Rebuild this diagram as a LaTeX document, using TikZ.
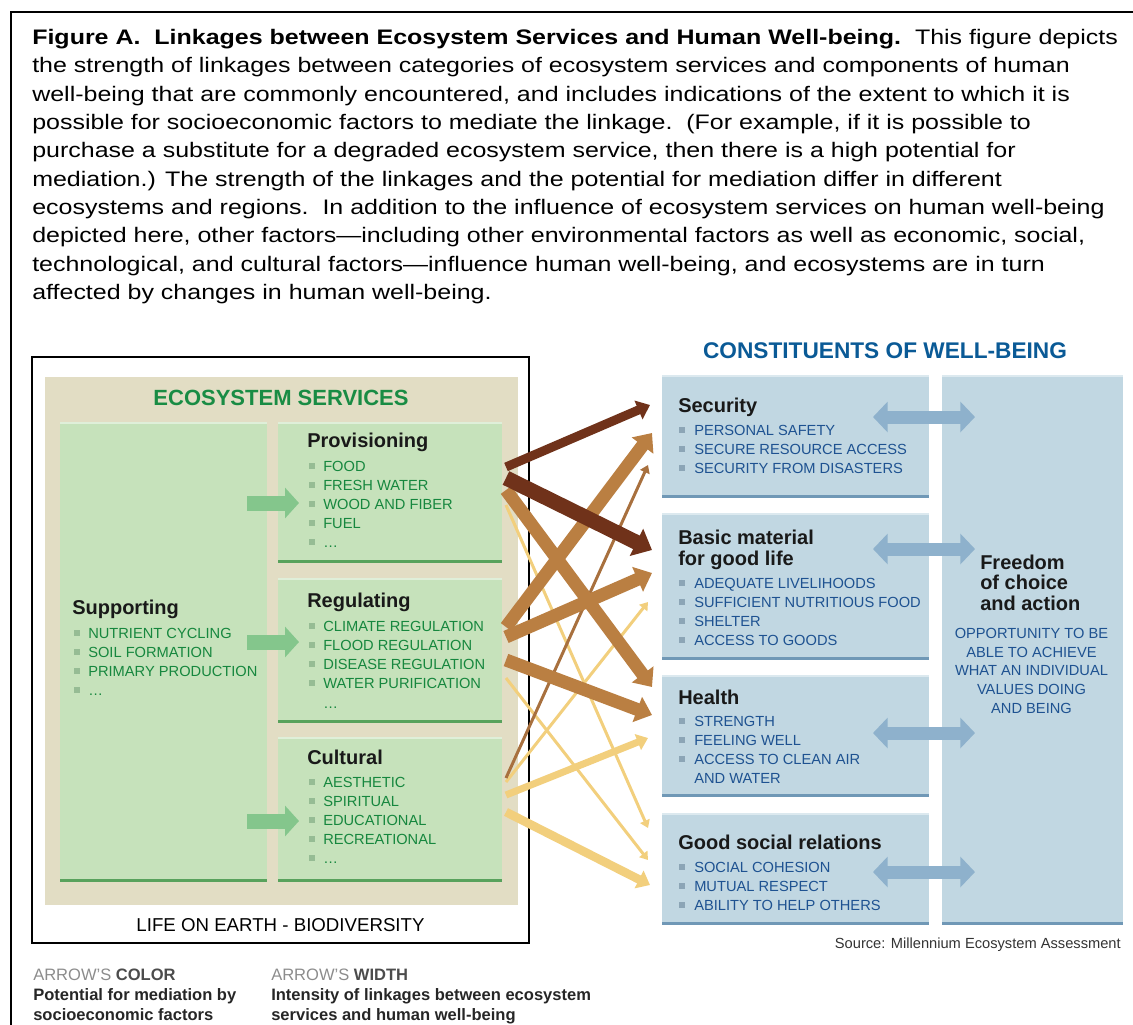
\documentclass[tikz,border=0pt]{standalone}
\usepackage{fontspec}
\setmainfont{Liberation Sans}
\newfontfamily\capfont{Liberation Sans}[FakeStretch=1.19]
\usetikzlibrary{arrows.meta, calc}

\begin{document}
\begin{tikzpicture}[
    x=0.75pt, y=-0.75pt,
    box/.style={inner sep=0pt, outer sep=0pt},
    greenbox/.style={box, fill=esGreen},
    bluebox/.style={box, fill=wbBlue},
    greenedge/.style={draw=esEdge, line width=2.2pt},
    blueedge/.style={draw=wbEdge, line width=2.2pt},
    topglow/.style={draw=white, draw opacity=0.45, line width=1.2pt},
    captext/.style={inner sep=0pt, anchor=base west, font=\capfont\fontsize{15.75}{19}\selectfont},
    boxtitle/.style={inner sep=0pt, anchor=west, font=\bfseries\fontsize{15}{18}\selectfont, text=black!90, text height=10.7pt, text depth=0pt},
    gitem/.style={inner sep=0pt, anchor=west, font=\fontsize{11}{13}\selectfont, text=esText, text height=7.9pt, text depth=0pt},
    bitem/.style={gitem, text=wbText},
    gbul/.style={fill=esBullet, minimum size=4pt, inner sep=0pt},
    bbul/.style={fill=wbBullet, minimum size=4pt, inner sep=0pt},
    legendtext/.style={inner sep=0pt, anchor=west, font=\bfseries\fontsize{12.4}{15}\selectfont, text=black!85, text height=8.9pt, text depth=0pt},
    link/.style={-{Triangle[width=4pt 1.6, length=4pt 0.8]}},
    feed/.style={line width=11.25pt, draw=esFeed, -{Triangle[width=22.5pt, length=10.5pt]}},
    twoway/.style={line width=9.75pt, draw=wbArrow, {Triangle[width=22.5pt, length=11pt]}-{Triangle[width=22.5pt, length=11pt]}},
]

% palette: green services side, blue well-being side, brown/yellow linkage arrows
\definecolor{esBeige}{RGB}{226,221,196}
\definecolor{esGreen}{RGB}{198,226,187}
\definecolor{esEdge}{RGB}{88,162,92}
\definecolor{esText}{RGB}{22,135,62}
\definecolor{esBullet}{RGB}{150,188,148}
\definecolor{esFeed}{RGB}{132,198,140}
\definecolor{esHead}{RGB}{25,140,68}
\definecolor{wbBlue}{RGB}{193,215,226}
\definecolor{wbEdge}{RGB}{112,152,182}
\definecolor{wbText}{RGB}{30,82,145}
\definecolor{wbBullet}{RGB}{140,165,182}
\definecolor{wbArrow}{RGB}{142,177,204}
\definecolor{wbHead}{RGB}{10,90,150}
\definecolor{linkDark}{RGB}{112,50,26}
\definecolor{linkMid}{RGB}{186,127,66}
\definecolor{linkThin}{RGB}{168,112,62}
\definecolor{linkLight}{RGB}{242,207,125}
\definecolor{legendGray}{RGB}{140,140,140}

\useasboundingbox (0,0) rectangle (1133,1025);

% ===== Frame and caption =====
\draw[line width=1.5pt] (11,1025) -- (11,12) -- (1133,12);

\foreach \ln [count=\i] in {
    {\textbf{Figure A.\ \ Linkages between Ecosystem Services and Human Well-being.}\ \ This figure depicts},
    {the strength of linkages between categories of ecosystem services and components of human},
    {well-being that are commonly encountered, and includes indications of the extent to which it is},
    {possible for socioeconomic factors to mediate the linkage.\ \ (For example, if it is possible to},
    {purchase a substitute for a degraded ecosystem service, then there is a high potential for},
    {mediation.) The strength of the linkages and the potential for mediation differ in different},
    {ecosystems and regions.\ \ In addition to the influence of ecosystem services on human well-being},
    {depicted here, other factors—including other environmental factors as well as economic, social,},
    {technological, and cultural factors—influence human well-being, and ecosystems are in turn},
    {affected by changes in human well-being.}} {
    \node[captext] (cap\i) at (32, {44.5+(\i-1)*28.35}) {\ln};
}

% ===== LEFT: Ecosystem services =====
\node[box, draw=black, line width=1.1pt, fill=white, minimum width=372.75pt, minimum height=439.5pt] (earth) at (280.5,650) {};
\node[box, fill=esBeige, minimum width=354.75pt, minimum height=396pt] (beige) at (281.5,641) {};
\node[inner sep=0pt, font=\bfseries\fontsize{16.5}{20}\selectfont, text=esHead, text height=11.8pt, text depth=0pt] (eshead) at (281,398) {ECOSYSTEM SERVICES};
\node[inner sep=0pt, font=\fontsize{14}{17}\selectfont, text height=10pt, text depth=0pt] (biodiv) at (280.5,925) {LIFE ON EARTH - BIODIVERSITY};

\node[greenbox, minimum width=155.25pt, minimum height=345pt] (supp) at (163.5,652) {};
\node[greenbox, minimum width=168pt, minimum height=105.75pt] (prov) at (390,492.5) {};
\node[greenbox, minimum width=168pt, minimum height=108.75pt] (reg) at (390,650.5) {};
\node[greenbox, minimum width=168pt, minimum height=108.75pt] (cul) at (390,809.5) {};
\foreach \b in {supp, prov, reg, cul} {
    \draw[topglow] ($(\b.north west)+(0,1)$) -- ($(\b.north east)+(0,1)$);
    \draw[greenedge] ($(\b.south west)+(0,-1.5)$) -- ($(\b.south east)+(0,-1.5)$);
}

% Supporting
\node[boxtitle] (suppt) at ($(supp.north west)+(12,185)$) {Supporting};
\foreach \t [count=\i] in {NUTRIENT CYCLING, SOIL FORMATION, PRIMARY PRODUCTION, \ldots} {
    \node[gbul] at ($(supp.north west)+(17,192+\i*19)$) {};
    \node[gitem] at ($(supp.north west)+(28,192+\i*19)$) {\t};
}

% Provisioning
\node[boxtitle] (provt) at ($(prov.north west)+(29,18)$) {Provisioning};
\foreach \t [count=\i] in {FOOD, FRESH WATER, WOOD AND FIBER, FUEL, \ldots} {
    \node[gbul] at ($(prov.north west)+(34,25+\i*19)$) {};
    \node[gitem] at ($(prov.north west)+(45,25+\i*19)$) {\t};
}

% Regulating
\node[boxtitle] (regt) at ($(reg.north west)+(29,22)$) {Regulating};
\foreach \t [count=\i] in {CLIMATE REGULATION, FLOOD REGULATION, DISEASE REGULATION, WATER PURIFICATION} {
    \node[gbul] at ($(reg.north west)+(34,29+\i*19)$) {};
    \node[gitem] at ($(reg.north west)+(45,29+\i*19)$) {\t};
}
\node[gitem] at ($(reg.north west)+(45,125)$) {\ldots};

% Cultural
\node[boxtitle] (cult) at ($(cul.north west)+(29,20)$) {Cultural};
\foreach \t [count=\i] in {AESTHETIC, SPIRITUAL, EDUCATIONAL, RECREATIONAL, \ldots} {
    \node[gbul] at ($(cul.north west)+(34,26+\i*19)$) {};
    \node[gitem] at ($(cul.north west)+(45,26+\i*19)$) {\t};
}

% Supporting feeds the other three
\draw[feed] ($(supp.east)+(-20,-149)$) -- ($(prov.west)+(21,10.5)$);
\draw[feed] ($(supp.east)+(-20,-10)$) -- ($(reg.west)+(21,-8.5)$);
\draw[feed] ($(supp.east)+(-20,169)$) -- ($(cul.west)+(21,11.5)$);

% ===== RIGHT: Constituents of well-being =====
\node[inner sep=0pt, font=\bfseries\fontsize{17}{20}\selectfont, text=wbHead, text height=12.2pt, text depth=0pt] (wbhead) at (885,350) {CONSTITUENTS OF WELL-BEING};

\node[bluebox, minimum width=200.25pt, minimum height=92.25pt] (sec) at (795.5,436.5) {};
\node[bluebox, minimum width=200.25pt, minimum height=110.25pt] (bas) at (795.5,586.5) {};
\node[bluebox, minimum width=200.25pt, minimum height=91.5pt] (hea) at (795.5,736) {};
\node[bluebox, minimum width=200.25pt, minimum height=84pt] (goo) at (795.5,869) {};
\node[bluebox, minimum width=135.75pt, minimum height=412.5pt] (free) at (1032.5,650) {};
\foreach \b in {sec, bas, hea, goo, free} {
    \draw[topglow] ($(\b.north west)+(0,1)$) -- ($(\b.north east)+(0,1)$);
    \draw[blueedge] ($(\b.south west)+(0,-1.5)$) -- ($(\b.south east)+(0,-1.5)$);
}

% Security
\node[boxtitle] (sect) at ($(sec.north west)+(16,30)$) {Security};
\foreach \t [count=\i] in {PERSONAL SAFETY, SECURE RESOURCE ACCESS, SECURITY FROM DISASTERS} {
    \node[bbul] at ($(sec.north west)+(20,36+\i*19)$) {};
    \node[bitem] at ($(sec.north west)+(32,36+\i*19)$) {\t};
}

% Basic material
\node[boxtitle] (bast) at ($(bas.north west)+(16,24)$) {Basic material};
\node[boxtitle] (bast2) at ($(bas.north west)+(16,45)$) {for good life};
\foreach \t [count=\i] in {ADEQUATE LIVELIHOODS, SUFFICIENT NUTRITIOUS FOOD, SHELTER, ACCESS TO GOODS} {
    \node[bbul] at ($(bas.north west)+(20,51+\i*19)$) {};
    \node[bitem] at ($(bas.north west)+(32,51+\i*19)$) {\t};
}

% Health
\node[boxtitle] (heat) at ($(hea.north west)+(16,22)$) {Health};
\foreach \t [count=\i] in {STRENGTH, FEELING WELL, ACCESS TO CLEAN AIR} {
    \node[bbul] at ($(hea.north west)+(20,27+\i*19)$) {};
    \node[bitem] at ($(hea.north west)+(32,27+\i*19)$) {\t};
}
\node[bitem] at ($(hea.north west)+(32,103)$) {AND WATER};

% Good social relations
\node[boxtitle] (goot) at ($(goo.north west)+(16,29)$) {Good social relations};
\foreach \t [count=\i] in {SOCIAL COHESION, MUTUAL RESPECT, ABILITY TO HELP OTHERS} {
    \node[bbul] at ($(goo.north west)+(20,35+\i*19)$) {};
    \node[bitem] at ($(goo.north west)+(32,35+\i*19)$) {\t};
}

% Freedom of choice and action
\foreach \t [count=\i] in {Freedom, of choice, and action} {
    \node[boxtitle] (freet\i) at ($(free.north west)+(38,{166.5+\i*20.5})$) {\t};
}
\foreach \t [count=\i] in {OPPORTUNITY TO BE, ABLE TO ACHIEVE, WHAT AN INDIVIDUAL, VALUES DOING, AND BEING} {
    \node[bitem, anchor=center] (freed\i) at ($(free.north)+(-1,{239.5+\i*18.7})$) {\t};
}

% two-way links into freedom of choice
\draw[twoway] ($(sec.east)+(-56,-19.5)$) -- ($(free.west)+(33,-233)$);
\draw[twoway] ($(bas.east)+(-56,-37.5)$) -- ($(free.west)+(33,-101)$);
\draw[twoway] ($(hea.east)+(-56,-3)$) -- ($(free.west)+(33,83)$);
\draw[twoway] ($(goo.east)+(-56,3)$) -- ($(free.west)+(33,222)$);

\node[inner sep=0pt, anchor=east, font=\fontsize{11}{13}\selectfont, text=black!80, text height=7.9pt, text depth=0pt] (source) at (1121,943) {Source: Millennium Ecosystem Assessment};

% ===== Linkage arrows (light and thin first, dark on top) =====
\draw[link, line width=2.25pt, draw=linkLight] ($(prov.east)+(4,12.5)$) -- ($(goo.west)+(-14,-41)$);
\draw[link, line width=2.25pt, draw=linkLight] ($(reg.east)+(4,27.5)$) -- ($(goo.west)+(-14,-9)$);
\draw[link, line width=2.25pt, draw=linkLight] ($(cul.east)+(4,-27.5)$) -- ($(bas.west)+(-14,15.5)$);
\draw[link, line width=2.25pt, draw=linkThin] ($(cul.east)+(4,-31.5)$) -- ($(sec.west)+(-14,28.5)$);
\draw[link, line width=5.25pt, draw=linkLight] ($(cul.east)+(4,-14.5)$) -- ($(hea.west)+(-14,2)$);
\draw[link, line width=6.5pt, draw=linkLight] ($(cul.east)+(4,2.5)$) -- ($(goo.west)+(-12,16)$);
\draw[link, line width=9.75pt, draw=linkMid] ($(reg.east)+(4,9.5)$) -- ($(hea.west)+(-10,-21)$);
\draw[link, line width=9.75pt, draw=linkMid] ($(reg.east)+(4,-13.5)$) -- ($(bas.west)+(-10,-13.5)$);
\draw[link, line width=9.75pt, draw=linkMid] ($(prov.east)+(4,-2.5)$) -- ($(hea.west)+(-10,-49)$);
\draw[link, line width=9.75pt, draw=linkMid] ($(reg.east)+(4,-23.5)$) -- ($(sec.west)+(-10,-3.5)$);
\draw[link, line width=6.75pt, draw=linkDark] ($(prov.east)+(4,-25.5)$) -- ($(sec.west)+(-12,-31.5)$);
\draw[link, line width=11.25pt, draw=linkDark] ($(prov.east)+(4,-14.5)$) -- ($(bas.west)+(-10,-36.5)$);

% ===== Legend =====
\node[legendtext] (colhead) at (33,975) {\textcolor{legendGray}{\mdseries ARROW'S} \textcolor{black!70}{COLOR}};
\node[legendtext] (colline1) at (33,995) {Potential for mediation by};
\node[legendtext] (colline2) at (33,1015) {socioeconomic factors};
\node[legendtext] (widhead) at (271,975) {\textcolor{legendGray}{\mdseries ARROW'S} \textcolor{black!70}{WIDTH}};
\node[legendtext] (widline1) at (271,995) {Intensity of linkages between ecosystem};
\node[legendtext] (widline2) at (271,1015) {services and human well-being};

\end{tikzpicture}
\end{document}
